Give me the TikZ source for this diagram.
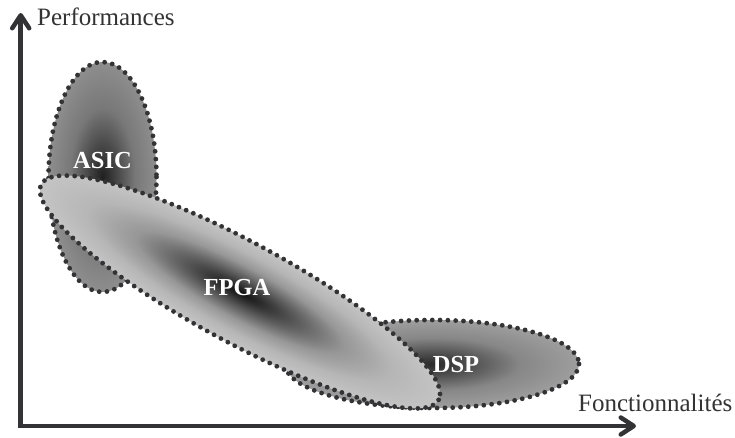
\documentclass[tikz,border=0pt]{standalone}
\usepackage{fontspec}
\setmainfont{Liberation Serif}
\usetikzlibrary{arrows.meta}
\definecolor{ink}{HTML}{333336}
\definecolor{txt}{HTML}{333333}
% ASIC colours
\definecolor{asA}{HTML}{202020}
\definecolor{asB}{HTML}{484848}
\definecolor{asC}{HTML}{787878}
\definecolor{asD}{HTML}{8E8E8E}
% FPGA colours
\definecolor{fpA}{HTML}{101010}
\definecolor{fpB}{HTML}{505050}
\definecolor{fpC}{HTML}{979797}
\definecolor{fpD}{HTML}{B6B6B6}
\definecolor{fpE}{HTML}{C4C4C4}
% DSP colours
\definecolor{dsA}{HTML}{2A2A2A}
\definecolor{dsB}{HTML}{535353}
\definecolor{dsC}{HTML}{878787}
\definecolor{dsD}{HTML}{9E9E9E}
\pgfdeclareradialshading{asicshade}{\pgfpoint{0bp}{0bp}}{color(0bp)=(asA); color(7bp)=(asB); color(15bp)=(asC); color(25bp)=(asD); color(50bp)=(asD)}
\pgfdeclareradialshading{fpgashade}{\pgfpoint{0bp}{0bp}}{color(0bp)=(fpA); color(6bp)=(fpB); color(13bp)=(fpC); color(19bp)=(fpD); color(25bp)=(fpE); color(50bp)=(fpE)}
\pgfdeclareradialshading{dspshade}{\pgfpoint{0bp}{0bp}}{color(0bp)=(dsA); color(7bp)=(dsB); color(15bp)=(dsC); color(25bp)=(dsD); color(50bp)=(dsD)}
\tikzset{
  dotline/.style={draw=ink, line width=4.8pt, line cap=round, dash pattern=on 0pt off 7.8pt},
  axis/.style={draw=ink, line width=4.5pt, line join=miter,
    {Straight Barb[length=13pt,width=17pt,line cap=round,line join=round]}-{Straight Barb[length=13pt,width=17pt,line cap=round,line join=round]}},
  axlab/.style={inner sep=0pt, text=txt, font=\fontsize{25}{30}\selectfont},
  blob/.style={inner sep=0pt, text=white, font=\fontsize{24.5}{28}\selectfont\bfseries}
}
\begin{document}
\begin{tikzpicture}[x=1pt,y=-1pt]
\useasboundingbox (0,0) rectangle (735,437);
\fill[white] (0,0) rectangle (735,437);
% ASIC
\shade[shading=asicshade] (102.5,177) ellipse (54 and 115);
\draw[dotline] (102.5,177) ellipse (54 and 115);
% DSP
\shade[shading=dspshade] (432,364) ellipse (147 and 44);
\draw[dotline] (432,364) ellipse (147 and 44);
% FPGA
\begin{scope}[transform canvas={shift={(240,292)}, rotate=-28.5}]
  \shade[shading=fpgashade] (0,0) ellipse (226 and 50);
\end{scope}
\draw[dotline, rotate around={-28.5:(240,292)}] (240,292) ellipse (226 and 50);
% labels
\node[blob, anchor=base] (asic) at (102.5,168) {ASIC};
\node[blob, anchor=base] (fpga) at (237,295) {FPGA};
\node[blob, anchor=base] (dsp) at (456,372) {DSP};
% axes
\coordinate (O) at (20.7,426);
\coordinate (Y) at (20.7,13);
\coordinate (X) at (636,426);
\draw[axis] (Y) -- (O) -- (X);
\node[axlab, anchor=base west] (perf) at (37,25) {Performances};
\node[axlab, anchor=base west] (fonc) at (578,411) {Fonctionnalités};
\end{tikzpicture}
\end{document}
